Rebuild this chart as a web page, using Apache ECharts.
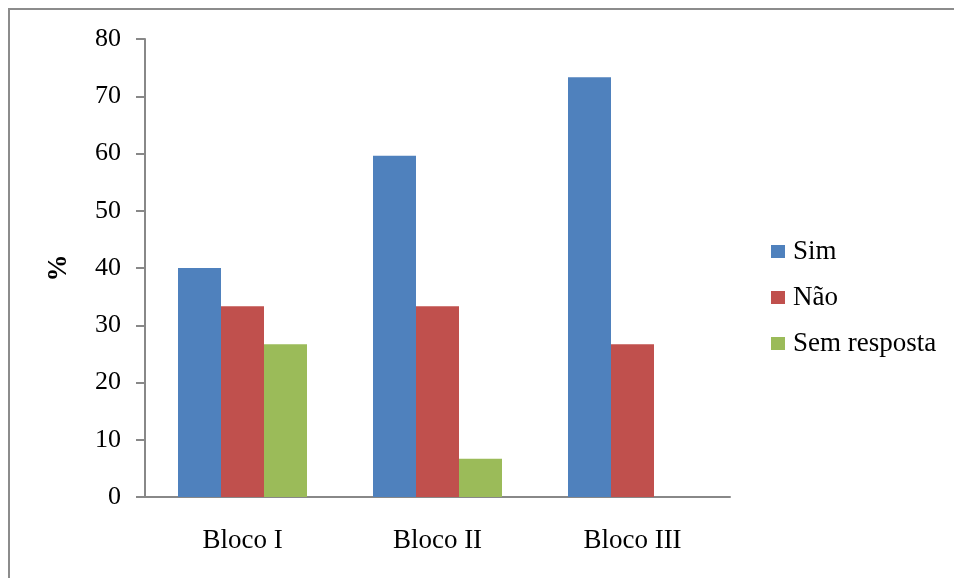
<!DOCTYPE html>
<html>
<head>
<meta charset="utf-8">
<script src="https://cdn.jsdelivr.net/npm/echarts@6/dist/echarts.min.js"></script>
<style>
html,body{margin:0;padding:0;background:#fff;}
#chart{width:954px;height:578px;}
</style>
</head>
<body>
<div id="chart"></div>
<script>
const categories = ['Bloco I', 'Bloco II', 'Bloco III'];
const seriesNames = ['Sim', 'Não', 'Sem resposta'];
const simValues = [40, 59.6, 73.3];
const naoValues = [33.3, 33.3, 26.7];
const semRespostaValues = [26.7, 6.7, 0];
const yTicks = [0, 10, 20, 30, 40, 50, 60, 70, 80];

const colors = ['#4F81BD', '#C0504D', '#9BBB59'];
const font = 'Liberation Serif';

const chart = echarts.init(document.getElementById('chart'));
const dataSets = [simValues, naoValues, semRespostaValues];
chart.setOption({
  animation: false,
  backgroundColor: '#ffffff',
  graphic: [{
    type: 'rect',
    shape: { x: 9, y: 9, width: 1000, height: 700 },
    style: { fill: 'none', stroke: '#8c8c8c', lineWidth: 2 },
    silent: true
  }],
  grid: { left: 145, right: 224, top: 39, bottom: 81, containLabel: false },
  legend: {
    orient: 'vertical',
    left: 766,
    top: 233,
    itemWidth: 14,
    itemHeight: 13,
    itemGap: 19,
    icon: 'rect',
    data: seriesNames,
    textStyle: { fontFamily: font, fontSize: 27, color: '#000', padding: [0, 0, 0, 3] }
  },
  xAxis: {
    type: 'category',
    data: categories,
    axisLine: { lineStyle: { color: '#888', width: 2 } },
    axisTick: { show: false },
    axisLabel: { fontFamily: font, fontSize: 27, color: '#000', margin: 30 },
    splitLine: { show: false }
  },
  yAxis: {
    type: 'value',
    min: yTicks[0],
    max: yTicks[yTicks.length - 1],
    interval: 10,
    name: '%',
    nameLocation: 'middle',
    nameRotate: 90,
    nameGap: 72,
    nameTextStyle: { fontFamily: font, fontSize: 27, fontWeight: 'bold', color: '#000' },
    axisLine: { show: true, lineStyle: { color: '#888', width: 2 } },
    axisTick: { show: true, length: 9, lineStyle: { color: '#888', width: 2 } },
    axisLabel: { fontFamily: font, fontSize: 26, color: '#000', margin: 24 },
    splitLine: { show: false }
  },
  series: seriesNames.map((n, i) => ({
    name: n,
    type: 'bar',
    data: dataSets[i],
    barWidth: 43,
    barGap: '0%',
    itemStyle: { color: colors[i] }
  }))
});
</script>
</body>
</html>
